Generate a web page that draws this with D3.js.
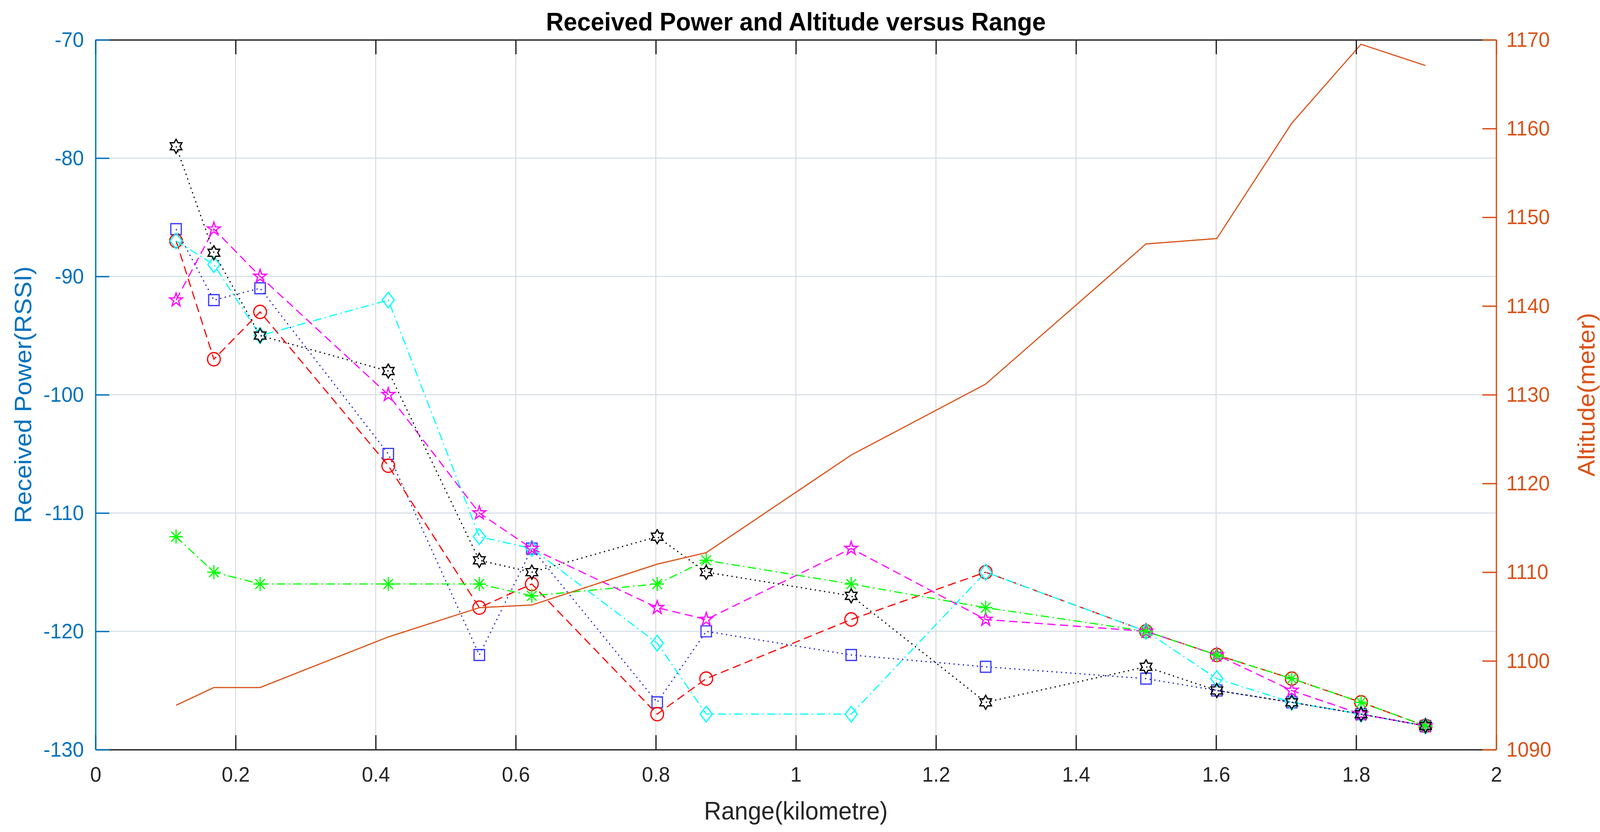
<!DOCTYPE html>
<html>
<head>
  <meta charset="UTF-8">
  <title>Received Power and Altitude versus Range</title>
  <script src="https://d3js.org/d3.v7.min.js"></script>
  <style>
    html, body { margin: 0; padding: 0; width: 100%; height: 100%; overflow: hidden; background: #fff; }
    #chart { width: 100%; height: 100%; }
    svg { display: block; }
    text { font-family: "Liberation Sans", Arial, sans-serif; }
  </style>
</head>
<body>
  <div id="chart"></div>
  <script>
    // range of each measurement point (km)
    const rangeKm = [0.115, 0.169, 0.235, 0.418, 0.548, 0.623, 0.802, 0.872, 1.079, 1.271, 1.500, 1.601, 1.708, 1.807, 1.899];

    // received power (RSSI) for each run
    const rssiSquare    = [-86, -92, -91, -105, -122, -113, -126, -120, -122, -123, -124, -125, -126, -127, -128];
    const rssiCircle    = [-87, -97, -93, -106, -118, -116, -127, -124, -119, -115, -120, -122, -124, -126, -128];
    const rssiDiamond   = [-87, -89, -95, -92, -112, -113, -121, -127, -127, -115, -120, -124, -126, -127, -128];
    const rssiPentagram = [-92, -86, -90, -100, -110, -113, -118, -119, -113, -119, -120, -122, -125, -127, -128];
    const rssiAsterisk  = [-112, -115, -116, -116, -116, -117, -116, -114, -116, -118, -120, -122, -124, -126, -128];
    const rssiHexagram  = [-79, -88, -95, -98, -114, -115, -112, -115, -117, -126, -123, -125, -126, -127, -128];

    // altitude (m)
    const altitude = [1095, 1097, 1097, 1102.7, 1106.0, 1106.3, 1110.9, 1112.2, 1123.2, 1131.2, 1147.0, 1147.6, 1160.6, 1169.5, 1167.1];

    const xTicks = [0, 0.2, 0.4, 0.6, 0.8, 1, 1.2, 1.4, 1.6, 1.8, 2];
    const leftTicks = [-130, -120, -110, -100, -90, -80, -70];
    const rightTicks = [1090, 1100, 1110, 1120, 1130, 1140, 1150, 1160, 1170];

    const W = 4271, H = 2131;
    const margin = { top: 102, right: 277, bottom: 211, left: 255 };
    const blueAxis = "#0072bd", orangeAxis = "#d95319";

    const svg = d3.select("#chart").append("svg")
      .attr("viewBox", `0 0 ${W} ${H}`)
      .attr("preserveAspectRatio", "none")
      .attr("width", "100%")
      .attr("height", "100%")
      .style("background", "#fff");

    const x = d3.scaleLinear().domain([0, 2]).range([margin.left, W - margin.right]);
    const yL = d3.scaleLinear().domain([-130, -70]).range([H - margin.bottom, margin.top]);
    const yR = d3.scaleLinear().domain([1090, 1170]).range([H - margin.bottom, margin.top]);

    // custom marker shapes (size = outer radius)
    function starShape(points, inner) {
      return {
        draw(ctx, r) {
          for (let i = 0; i < points * 2; i++) {
            const a = -Math.PI / 2 + i * Math.PI / points;
            const rr = i % 2 === 0 ? r : r * inner;
            if (i === 0) ctx.moveTo(rr * Math.cos(a), rr * Math.sin(a));
            else ctx.lineTo(rr * Math.cos(a), rr * Math.sin(a));
          }
          ctx.closePath();
        }
      };
    }
    const pentagram = starShape(5, 0.382);
    const hexagram = starShape(6, 0.577);
    const square = { draw(ctx, r) { ctx.rect(-r, -r, 2 * r, 2 * r); } };
    const circle = { draw(ctx, r) { ctx.moveTo(r, 0); ctx.arc(0, 0, r, 0, 2 * Math.PI); } };
    const diamond = {
      draw(ctx, r) {
        ctx.moveTo(0, -r * 1.12); ctx.lineTo(r * 0.9, 0); ctx.lineTo(0, r * 1.12); ctx.lineTo(-r * 0.9, 0); ctx.closePath();
      }
    };
    const asterisk = {
      draw(ctx, r) {
        const d = r * Math.SQRT1_2;
        ctx.moveTo(-r, 0); ctx.lineTo(r, 0);
        ctx.moveTo(0, -r); ctx.lineTo(0, r);
        ctx.moveTo(-d, -d); ctx.lineTo(d, d);
        ctx.moveTo(-d, d); ctx.lineTo(d, -d);
      }
    };

    const series = [
      { values: rssiSquare, color: "#3a3aff", lineColor: "#1f1fc8", dash: "3.5 9", shape: square, size: 14 },
      { values: rssiCircle, color: "#ff0000", lineColor: "#ff0000", dash: "22 12", shape: circle, size: 17 },
      { values: rssiDiamond, color: "#00ffff", lineColor: "#00ffff", dash: "22 9 4 9", shape: diamond, size: 18 },
      { values: rssiPentagram, color: "#ff00ff", lineColor: "#ff00ff", dash: "22 12", shape: pentagram, size: 18 },
      { values: rssiAsterisk, color: "#00ff00", lineColor: "#00ff00", dash: "22 9 4 9", shape: asterisk, size: 18 },
      { values: rssiHexagram, color: "#000000", lineColor: "#000000", dash: "3.5 9", shape: hexagram, size: 18 }
    ];

    // grid
    const grid = svg.append("g");
    grid.selectAll(".vgrid")
      .data(xTicks.slice(1, -1))
      .enter().append("line")
      .attr("x1", d => x(d)).attr("x2", d => x(d))
      .attr("y1", margin.top).attr("y2", H - margin.bottom)
      .attr("stroke", "#d9d9d9").attr("stroke-width", 2.5);
    grid.selectAll(".hgrid")
      .data(leftTicks.slice(1, -1))
      .enter().append("line")
      .attr("x1", margin.left).attr("x2", W - margin.right)
      .attr("y1", d => yL(d)).attr("y2", d => yL(d))
      .attr("stroke", "#d3dbe3").attr("stroke-width", 2.5);

    // RSSI series
    series.forEach(s => {
      const pts = rangeKm.map((r, i) => [r, s.values[i]]);
      const line = d3.line().x(d => x(d[0])).y(d => yL(d[1]));
      svg.append("path")
        .datum(pts)
        .attr("d", line)
        .attr("fill", "none")
        .attr("stroke", s.lineColor)
        .attr("stroke-width", 3)
        .attr("stroke-dasharray", s.dash);
      svg.append("g").selectAll("path")
        .data(pts)
        .enter().append("path")
        .attr("transform", d => `translate(${x(d[0])},${yL(d[1])})`)
        .attr("d", d3.symbol().type(s.shape).size(s.size))
        .attr("fill", "none")
        .attr("stroke", s.color)
        .attr("stroke-width", 3.2);
    });

    // altitude line on right axis
    svg.append("path")
      .datum(rangeKm.map((r, i) => [r, altitude[i]]))
      .attr("d", d3.line().x(d => x(d[0])).y(d => yR(d[1])))
      .attr("fill", "none")
      .attr("stroke", orangeAxis)
      .attr("stroke-width", 3);

    // axes
    const tickLen = 37;
    const fmt = d => String(d);

    const xAxisBottom = svg.append("g")
      .attr("transform", `translate(0, ${H - margin.bottom})`)
      .call(d3.axisBottom(x).tickValues(xTicks).tickFormat(fmt).tickSizeInner(-tickLen).tickSizeOuter(0).tickPadding(44));
    const xAxisTop = svg.append("g")
      .attr("transform", `translate(0, ${margin.top})`)
      .call(d3.axisTop(x).tickValues(xTicks).tickFormat("").tickSizeInner(-tickLen).tickSizeOuter(0));
    [xAxisBottom, xAxisTop].forEach(g => {
      g.selectAll("path, line").attr("stroke", "#262626").attr("stroke-width", 3.5);
      g.selectAll("text").attr("fill", "#262626").style("font-size", "54px");
    });

    const yAxisLeft = svg.append("g")
      .attr("transform", `translate(${margin.left}, 0)`)
      .call(d3.axisLeft(yL).tickValues(leftTicks).tickFormat(fmt).tickSizeInner(-tickLen).tickSizeOuter(0).tickPadding(31));
    yAxisLeft.selectAll("path, line").attr("stroke", blueAxis).attr("stroke-width", 3.5);
    yAxisLeft.selectAll("text").attr("fill", blueAxis).style("font-size", "54px");

    const yAxisRight = svg.append("g")
      .attr("transform", `translate(${W - margin.right}, 0)`)
      .call(d3.axisRight(yR).tickValues(rightTicks).tickFormat(fmt).tickSizeInner(-tickLen).tickSizeOuter(0).tickPadding(27));
    yAxisRight.selectAll("path, line").attr("stroke", orangeAxis).attr("stroke-width", 3.5);
    yAxisRight.selectAll("text").attr("fill", orangeAxis).style("font-size", "54px");

    // labels and title
    const plotMidY = (margin.top + H - margin.bottom) / 2;
    svg.append("text")
      .attr("x", (margin.left + W - margin.right) / 2)
      .attr("y", 2099)
      .attr("text-anchor", "middle")
      .attr("fill", "#262626")
      .style("font-size", "64px")
      .text("Range(kilometre)");

    svg.append("text")
      .attr("transform", `translate(83, ${plotMidY}) rotate(-90)`)
      .attr("text-anchor", "middle")
      .attr("fill", blueAxis)
      .style("font-size", "64px")
      .text("Received Power(RSSI)");

    svg.append("text")
      .attr("transform", `translate(4256, ${plotMidY}) rotate(-90)`)
      .attr("text-anchor", "middle")
      .attr("fill", orangeAxis)
      .style("font-size", "64px")
      .text("Altitude(meter)");

    svg.append("text")
      .attr("x", (margin.left + W - margin.right) / 2)
      .attr("y", 78)
      .attr("text-anchor", "middle")
      .attr("fill", "#000")
      .style("font-size", "65px")
      .style("font-weight", "bold")
      .text("Received Power and Altitude versus Range");
  </script>
</body>
</html>
